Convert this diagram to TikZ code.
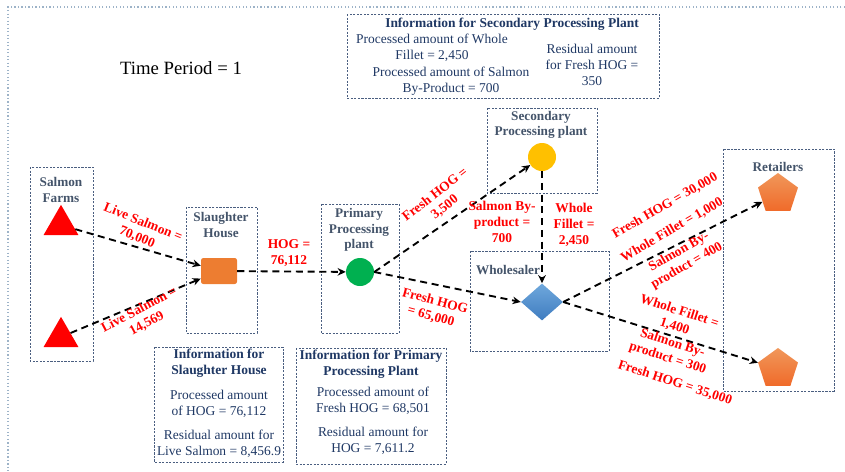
\documentclass[tikz,border=0pt]{standalone}
\usepackage{fontspec}
\setmainfont{Liberation Serif}
\usetikzlibrary{shapes.geometric,arrows.meta}
\definecolor{ttlgray}{HTML}{44546A}
\definecolor{infonavy}{HTML}{1F3864}
\definecolor{boxline}{HTML}{4A5E80}
\definecolor{frameblue}{HTML}{9DB3C8}
\definecolor{salmonorange}{HTML}{ED7D31}
\definecolor{plantgreen}{HTML}{00B050}
\definecolor{plantyellow}{HTML}{FFC000}
\definecolor{wholetop}{HTML}{6FA8DC}
\definecolor{wholebot}{HTML}{3F7CC0}
\begin{document}
\begin{tikzpicture}
  [x=0.03cm,y=-0.03cm,
   box/.style={draw=boxline,line width=0.6pt,dash pattern=on 1.8pt off 1.2pt},
   ttl/.style={font=\fontsize{11.3}{13.2}\selectfont\bfseries,text=ttlgray,align=center,inner sep=0pt},
   lbl/.style={font=\fontsize{11.5}{13.5}\selectfont\bfseries,text=red,align=center,inner sep=0pt},
   info/.style={font=\fontsize{11.5}{13.4}\selectfont,text=infonavy,align=center,inner sep=0pt},
   infottl/.style={info,font=\fontsize{11.5}{14}\selectfont\bfseries},
   flow/.style={line width=1.6pt,dash pattern=on 6pt off 4pt,-{Stealth[length=7pt,width=6.5pt]}}]
  \useasboundingbox (0,0) rectangle (845,471);
  % outer frame
  \draw[frameblue,line width=1pt,dotted] (845,7) -- (8,7) -- (8,471);
  \node[font=\fontsize{16}{19}\selectfont,inner sep=0pt] (tp) at (181,68) {Time Period = 1};
  % stage boxes
  \draw[box] (30,167) rectangle (93,361);
  \draw[box] (186,207) rectangle (257,333);
  \draw[box] (321,204) rectangle (399,333);
  \draw[box] (487,108) rectangle (597,193);
  \draw[box] (470,251) rectangle (609,351);
  \draw[box] (723,149) rectangle (834,391);
  \node[ttl] (farmT) at (61,190) {Salmon\\Farms};
  \node[ttl] (slT) at (221,225) {Slaughter\\House};
  \node[ttl] (ppT) at (359,230) {Primary\\Processing\\plant};
  \node[ttl] (spT) at (541,125) {Secondary\\Processing plant};
  \node[ttl] (whT) at (508,270) {Wholesaler};
  \node[ttl] (rtT) at (778,167) {Retailers};
  % facilities
  \node[regular polygon,regular polygon sides=3,fill=red,minimum size=1.21cm,inner sep=0pt] (f1) at (61,225) {};
  \node[regular polygon,regular polygon sides=3,fill=red,minimum size=1.21cm,inner sep=0pt] (f2) at (61,337) {};
  \node[rectangle,rounded corners=2pt,fill=salmonorange,minimum width=1.08cm,minimum height=0.78cm] (sh) at (219,271) {};
  \node[circle,fill=plantgreen,minimum size=0.84cm,inner sep=0pt] (pp) at (360,272) {};
  \node[circle,fill=plantyellow,minimum size=0.84cm,inner sep=0pt] (sp) at (542,157) {};
  \node[diamond,top color=wholetop,bottom color=wholebot,minimum width=1.26cm,minimum height=1.11cm,inner sep=0pt] (wh) at (542,302) {};
  \node[regular polygon,regular polygon sides=5,top color=salmonorange!80!white,bottom color=salmonorange!85!red,minimum size=1.26cm,inner sep=0pt] (r1) at (778,194) {};
  \node[regular polygon,regular polygon sides=5,top color=salmonorange!80!white,bottom color=salmonorange!85!red,minimum size=1.26cm,inner sep=0pt] (r2) at (778,369) {};
  % flows
  \draw[flow] (f1) -- (sh);
  \draw[flow] (f2) -- (sh);
  \draw[flow] (sh) -- (pp);
  \draw[flow] (pp.east) -- (sp);
  \draw[flow] (pp.east) -- (wh.west);
  \draw[flow] (sp) -- (wh);
  \draw[flow] (wh.east) -- (r1);
  \draw[flow] (wh.east) -- (r2);
  % flow labels
  \node[lbl,rotate=-22] (l1) at (140,230) {Live Salmon =\\70,000};
  \node[lbl,rotate=28] (l2) at (143,317) {Live Salmon =\\14,569};
  \node[lbl] (l3) at (289,253) {HOG =\\76,112};
  \node[lbl,rotate=38] (l4) at (440,201) {Fresh HOG =\\3,500};
  \node[lbl,rotate=-15] (l5) at (433,309) {Fresh HOG\\= 65,000};
  \node[lbl] (l6) at (502,222) {Salmon By-\\product =\\700};
  \node[lbl] (l7) at (574,225) {Whole\\Fillet =\\2,450};
  \node[lbl,rotate=30] (l8) at (665,206) {Fresh HOG = 30,000};
  \node[lbl,rotate=30] (l9) at (672,230) {Whole Fillet = 1,000};
  \node[lbl,rotate=30] (l10) at (683,259) {Salmon By-\\product = 400};
  \node[lbl,rotate=-18] (l11) at (677,319) {Whole Fillet =\\1,400};
  \node[lbl,rotate=-18] (l12) at (670,351) {Salmon By-\\product = 300};
  \node[lbl,rotate=-18] (l13) at (675,383) {Fresh HOG = 35,000};
  % information boxes
  \draw[box] (347,14) rectangle (659,98);
  \node[infottl] (isT) at (512,24) {Information for Secondary Processing Plant};
  \node[info] (is1) at (432,48) {Processed amount of Whole\\Fillet = 2,450};
  \node[info] (is2) at (451,81) {Processed amount of Salmon\\By-Product = 700};
  \node[info] (is3) at (592,65) {Residual amount\\for Fresh HOG =\\350};
  \draw[box] (154,347) rectangle (283,462);
  \node[infottl] (ishT) at (219,363) {Information for\\Slaughter House};
  \node[info] (ish1) at (219,404) {Processed amount\\of HOG = 76,112};
  \node[info] (ish2) at (219,444) {Residual amount for\\Live Salmon = 8,456.9};
  \draw[box] (296,348) rectangle (446,464);
  \node[infottl] (ippT) at (371,364) {Information for Primary\\Processing Plant};
  \node[info] (ipp1) at (373,401) {Processed amount of\\Fresh HOG = 68,501};
  \node[info] (ipp2) at (373,441) {Residual amount for\\HOG = 7,611.2};
\end{tikzpicture}
\end{document}
